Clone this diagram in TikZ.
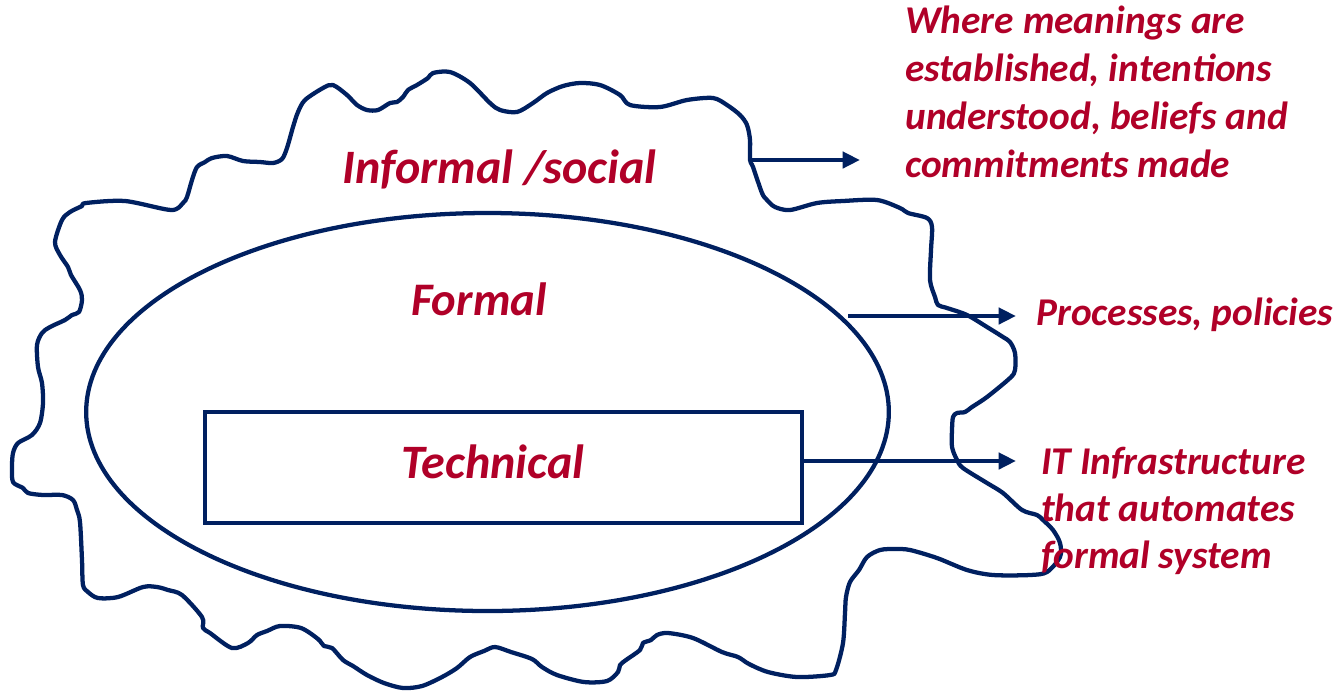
\documentclass[tikz,border=0pt]{standalone}
\usepackage{fontspec}
\setmainfont{Carlito}
\usetikzlibrary{shapes.geometric,arrows.meta}
\definecolor{navy}{RGB}{0,32,96}
\definecolor{txtred}{RGB}{176,0,40}
\begin{document}
\begin{tikzpicture}[x=0.75pt,y=-0.75pt,
  outline/.style={draw=navy, line width=3.2pt, line join=round},
  arr/.style={draw=navy, line width=3.2pt, -{Triangle[length=13pt,width=12pt]}},
  lbl/.style={text=txtred, font=\bfseries\itshape, inner sep=0pt}]
\useasboundingbox (0,0) rectangle (1341,694);
% informal / social blob
\draw[outline] plot[smooth cycle, tension=0.5] coordinates {
 (305,100) (323,88) (333,85) (347,95) (357,105) (367,110) (378,110) (390,103) (397,102) (403,97) (408,90) (417,85) (428,78) (433,73) (450,72) (470,83) (490,103) (500,110) (517,112) (533,103) (547,93) (563,86) (580,83) (600,85) (620,95) (630,105) (660,107) (687,100) (713,98) (727,105) (740,115) (747,125) (750,140) (750,160) (753,167) (762,193) (767,200) (775,207) (790,210) (817,203) (843,201) (877,200) (900,208) (908,213) (927,218) (932,227) (931,250) (930,280) (935,297) (938,305) (947,308) (967,315) (987,327) (1003,337) (1010,342) (1015,353) (1015,370) (1010,378) (987,397) (972,407) (965,412) (957,413) (953,417) (952,430) (952,447) (957,460) (963,468) (987,483) (1003,493) (1022,510) (1037,515) (1043,520) (1053,530) (1060,543) (1060,557) (1047,572) (1030,575) (993,575) (967,570) (937,558) (910,550) (895,549) (880,550) (867,557) (859,570) (850,582) (846,597) (845,613) (843,643) (836,670) (830,675) (797,677) (768,672) (749,664) (738,657) (722,652) (693,638) (668,633) (657,635) (651,640) (643,643) (640,650) (626,660) (620,665) (618,672) (607,681) (584,682) (557,675) (542,667) (532,659) (511,652) (495,647) (484,651) (470,657) (457,668) (442,677) (422,686) (403,688) (384,683) (367,675) (353,666) (343,660) (332,648) (324,646) (318,639) (301,628) (280,626) (267,631) (257,635) (248,643) (232,648) (210,633) (203,628) (202,617) (182,595) (168,590) (157,587) (143,587) (118,597) (98,598) (88,592) (83,585) (82,560) (80,522) (77,510) (73,500) (62,495) (43,495) (28,493) (23,488) (13,482) (12,467) (13,453) (18,443) (32,435) (40,423) (43,403) (42,383) (38,367) (37,345) (42,333) (50,327) (65,320) (72,315) (79,312) (82,300) (80,290) (71,275) (68,267) (60,255) (55,242) (62,220) (70,212) (82,206) (86,203) (125,201) (171,210) (183,203) (187,197) (192,180) (197,167) (205,162) (212,158) (227,156) (243,161) (260,162) (273,163) (282,159) (287,148) (293,127) (298,112)};
% formal ellipse
\node[ellipse, draw=navy, line width=3.2pt, minimum width=602pt, minimum height=298.5pt, inner sep=0pt] (formal) at (487.5,412) {};
% technical box
\node[draw=navy, line width=3.2pt, minimum width=447.75pt, minimum height=83.25pt, inner sep=0pt] (tech) at (503.5,467.5) {};
% labels inside
\node[lbl, anchor=base west, font=\bfseries\itshape\fontsize{36}{43}\selectfont] (informal) at (342,183) {Informal /social};
\node[lbl, anchor=base west, font=\bfseries\itshape\fontsize{35}{42}\selectfont] (formallbl) at (411,315) {Formal};
\node[lbl, anchor=base, font=\bfseries\itshape\fontsize{36}{43}\selectfont] (techlbl) at (493,478) {Technical};
% right-hand labels
\node[lbl, anchor=base west, align=left, font=\bfseries\itshape\fontsize{29.5}{36}\selectfont] (where) at (905,177) {Where meanings are\\established, intentions\\understood, beliefs and\\commitments made};
\node[lbl, anchor=base west, font=\bfseries\itshape\fontsize{29.5}{36}\selectfont] (proc) at (1036,325) {Processes, policies};
\node[lbl, anchor=base west, align=left, font=\bfseries\itshape\fontsize{29.5}{35}\selectfont] (itinf) at (1041,568) {IT Infrastructure\\that automates\\formal system};
% arrows
\coordinate (a1s) at (752,160);
\coordinate (a1e) at (860,160);
\coordinate (a2s) at (848,316);
\coordinate (a2e) at (1016,316);
\coordinate (a3e) at (1016,461);
\draw[arr] (a1s) -- (a1e);
\draw[arr] (a2s) -- (a2e);
\draw[arr] (tech.east |- a3e) -- (a3e);
\end{tikzpicture}
\end{document}
